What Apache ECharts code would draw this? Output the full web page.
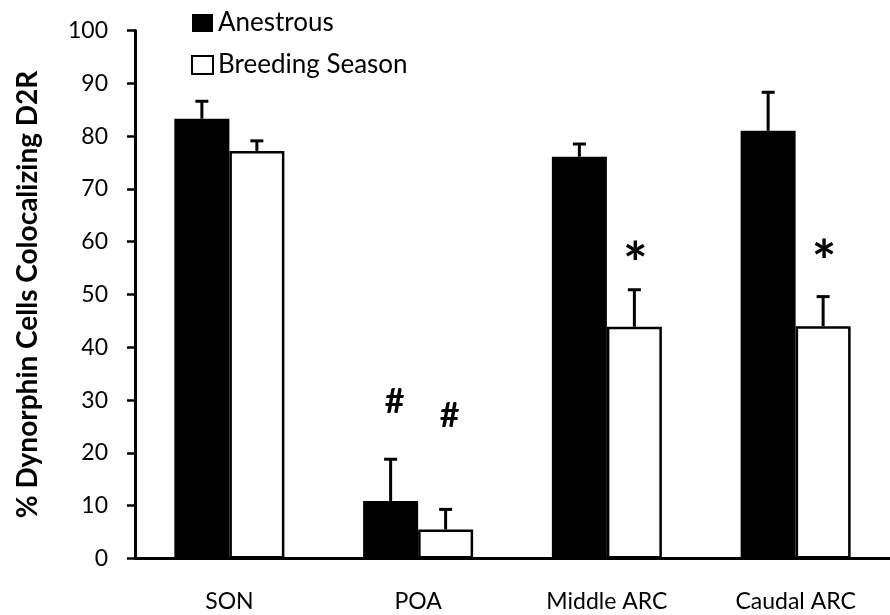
<!DOCTYPE html>
<html>
<head>
<meta charset="utf-8">
<script src="https://cdn.jsdelivr.net/npm/echarts@6/dist/echarts.min.js"></script>
<style>
html,body{margin:0;padding:0;background:#fff;}
#chart{width:890px;height:615px;}
</style>
</head>
<body>
<div id="chart"></div>
<script>
// ---- data ----
var categories = ['SON', 'POA', 'Middle ARC', 'Caudal ARC'];
var anestrous = [83.3, 10.9, 76.1, 81.0];
var anestrousErr = [3.3, 7.9, 2.4, 7.3];
var breeding = [77.2, 5.5, 43.9, 44.0];
var breedingErr = [1.9, 3.8, 7.0, 5.6];
// significance marks and the value level at which each is printed
var anestrousMarks = ['', '#', '', ''];
var anestrousMarkAt = [null, 29.6, null, null];
var breedingMarks = ['', '#', '*', '*'];
var breedingMarkAt = [null, 27.0, 58.5, 59.0];
var yTicks = [0, 10, 20, 30, 40, 50, 60, 70, 80, 90, 100];

var FONT = 'Lato';
var BAR_W = 55;

function errData(vals, errs, markAt) {
  return vals.map(function (v, i) {
    return [i, v, v + errs[i], markAt[i] == null ? NaN : markAt[i]];
  });
}

function makeRenderer(dx, marks) {
  return function (params, api) {
    var i = api.value(0);
    var base = api.coord([i, api.value(1)]);
    var top = api.coord([i, api.value(2)]);
    var x = base[0] + dx;
    var children = [
      { type: 'line', shape: { x1: x, y1: base[1], x2: x, y2: top[1] },
        style: { stroke: '#000', lineWidth: 3 } },
      { type: 'line', shape: { x1: x - 6.5, y1: top[1], x2: x + 6.5, y2: top[1] },
        style: { stroke: '#000', lineWidth: 3 } }
    ];
    var mark = marks[i];
    var at = api.value(3);
    if (mark && !isNaN(at)) {
      var p = api.coord([i, at]);
      var isStar = mark === '*';
      children.push({
        type: 'text',
        style: {
          text: mark, x: x + (isStar ? 1 : 4), y: p[1] + (isStar ? 16 : 0),
          fill: '#000', font: 'bold ' + (isStar ? 58 : 34) + 'px ' + FONT,
          align: 'center', verticalAlign: 'middle'
        }
      });
    }
    return { type: 'group', children: children };
  };
}

var chart = echarts.init(document.getElementById('chart'));
chart.setOption({
  animation: false,
  backgroundColor: '#fff',
  grid: { left: 135, right: -10, top: 30.5, bottom: 56.5, containLabel: false },
  legend: {
    orient: 'vertical', left: 186, top: 5, itemWidth: 21, itemHeight: 18, itemGap: 16,
    icon: 'rect',
    data: ['Anestrous', 'Breeding Season'],
    textStyle: { fontFamily: FONT, fontSize: 26, color: '#000' }
  },
  xAxis: {
    type: 'category', data: categories,
    axisLine: { lineStyle: { color: '#000', width: 3 } },
    axisTick: { show: false },
    axisLabel: { fontFamily: FONT, fontSize: 23, color: '#000', margin: 32 }
  },
  yAxis: {
    type: 'value', min: 0, max: 100, interval: 10,
    name: '% Dynorphin Cells Colocalizing D2R', nameLocation: 'middle', nameGap: 93,
    nameTextStyle: { fontFamily: FONT, fontSize: 28, fontWeight: 'bold', color: '#000' },
    axisLine: { show: true, lineStyle: { color: '#000', width: 3 } },
    axisTick: { show: true, length: 8, lineStyle: { color: '#000', width: 2.5 } },
    axisLabel: { fontFamily: FONT, fontSize: 23, color: '#000', margin: 27,
      formatter: function (v) { return yTicks.indexOf(v) >= 0 ? String(v) : ''; } },
    splitLine: { show: false }
  },
  series: [
    { name: 'Anestrous', type: 'bar', data: anestrous, barWidth: BAR_W, barGap: '0%',
      itemStyle: { color: '#000', borderColor: '#000', borderWidth: 0 }, z: 2 },
    { name: 'Breeding Season', type: 'bar', data: breeding, barWidth: BAR_W, barGap: '0%',
      itemStyle: { color: '#fff', borderColor: '#000', borderWidth: 2.5 }, z: 2 },
    { type: 'custom', name: 'errA', data: errData(anestrous, anestrousErr, anestrousMarkAt),
      renderItem: makeRenderer(-BAR_W / 2, anestrousMarks), encode: { x: 0, y: [1, 2] }, z: 3, silent: true },
    { type: 'custom', name: 'errB', data: errData(breeding, breedingErr, breedingMarkAt),
      renderItem: makeRenderer(BAR_W / 2, breedingMarks), encode: { x: 0, y: [1, 2] }, z: 3, silent: true }
  ]
});
</script>
</body>
</html>
